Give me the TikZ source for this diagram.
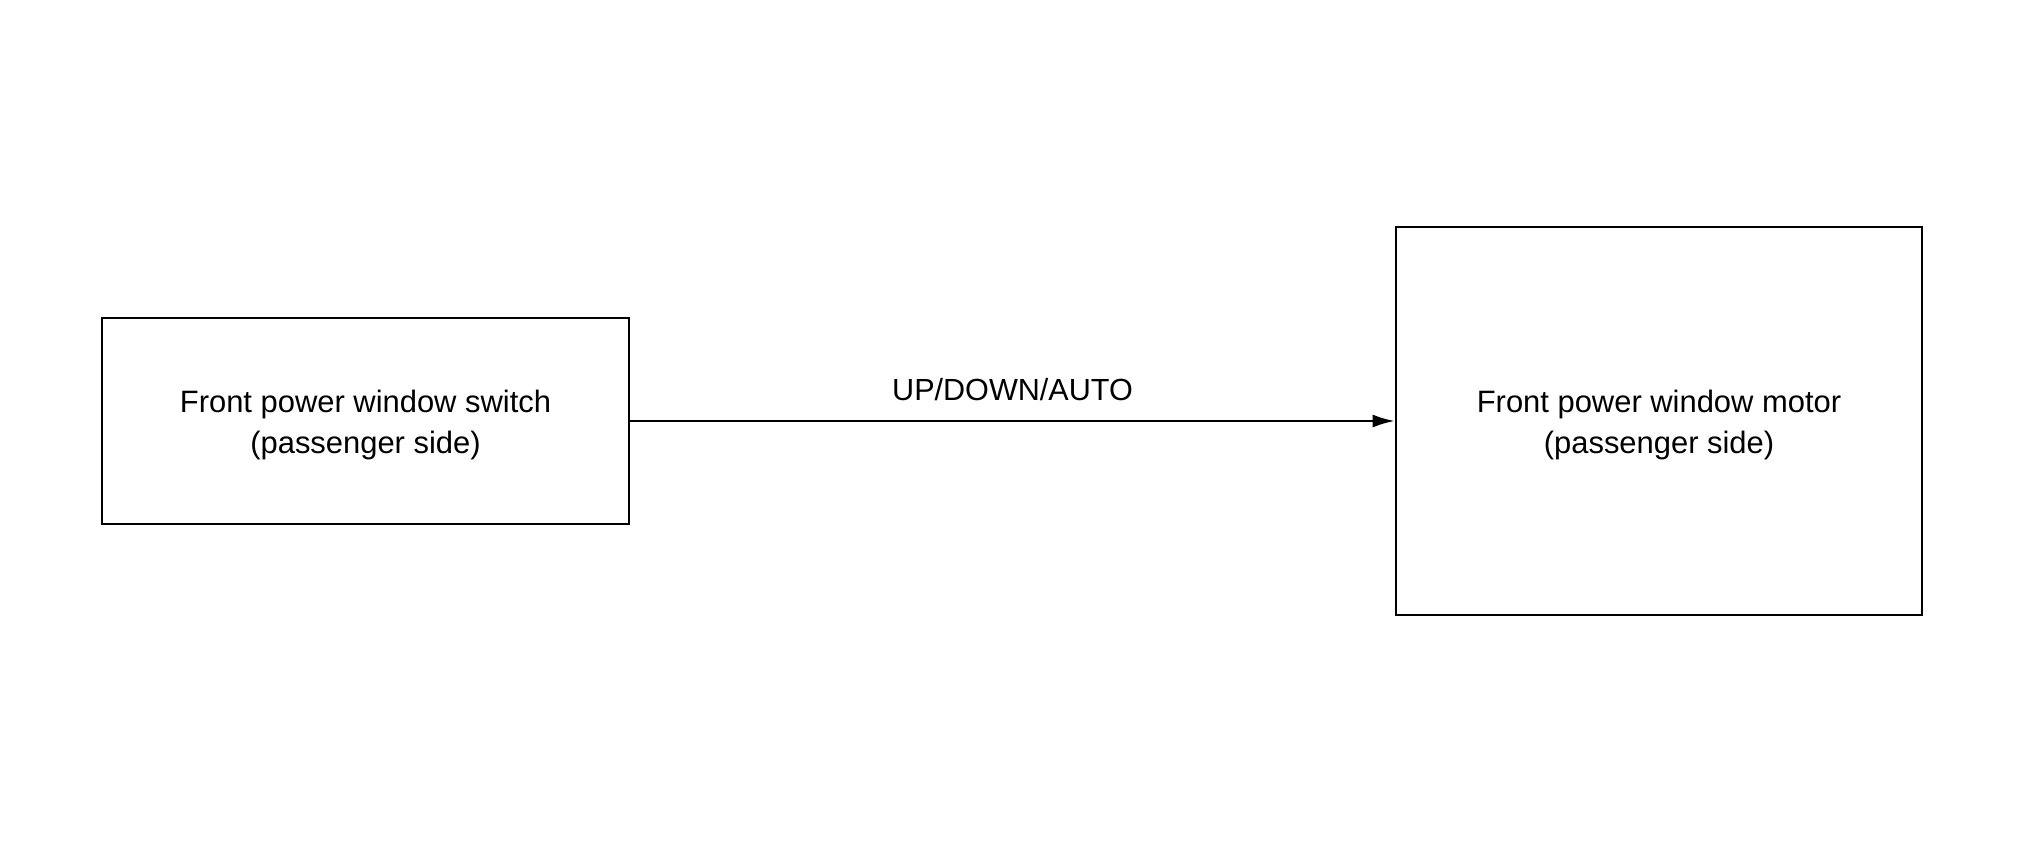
\documentclass[tikz,border=0pt]{standalone}
\usepackage{fontspec}
\setmainfont{Liberation Sans}
\usepackage{tikz}
\usetikzlibrary{arrows.meta, calc, positioning}

\begin{document}
\begin{tikzpicture}[x=0.1mm, y=-0.1mm,
    blockbox/.style={draw, line width=0.8pt, inner sep=0pt},
    blocktext/.style={inner sep=0pt, align=center, yshift=-0.4mm, font=\fontsize{8.8pt}{11.4pt}\selectfont},
    signal/.style={-{Latex[length=2.2mm, width=1.3mm]}, line width=0.6pt}]
% Canvas (pixel grid of the reference)
\useasboundingbox (0,0) rectangle (2020,851);

% Switch block
\node[blockbox, minimum width=52.7mm, minimum height=20.6mm,
      label={[blocktext]center:{Front power window switch\\(passenger side)}}] (switch) at (365.5,421) {};
% Motor block
\node[blockbox, minimum width=52.6mm, minimum height=38.8mm,
      label={[blocktext]center:{Front power window motor\\(passenger side)}}] (motor) at (1659,421) {};

% Signal line
\draw[signal] (switch.east) -- (motor.west) node[midway, above=1.9mm, inner sep=0pt, text depth=0pt, font=\fontsize{8.7pt}{11pt}\selectfont]{UP/DOWN/AUTO};

\end{tikzpicture}
\end{document}
